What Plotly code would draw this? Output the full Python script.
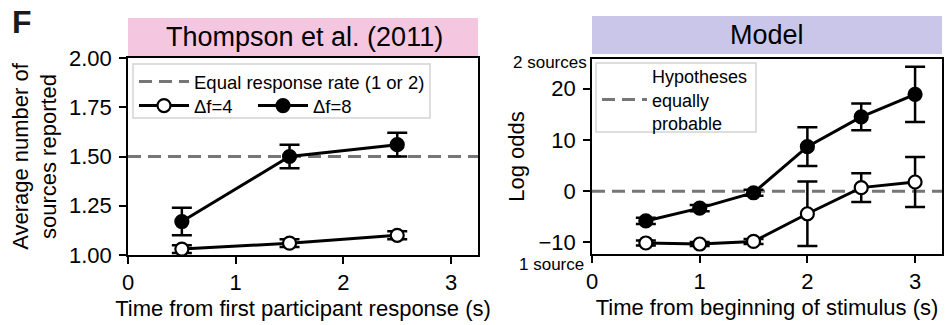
import plotly.graph_objects as go

# ---- data -------------------------------------------------------------
# Behavioural data (Thompson et al., 2011)
t_exp = [0.5, 1.5, 2.5]
exp_df4 = [1.03, 1.06, 1.10]
exp_df4_err = [0.02, 0.02, 0.02]
exp_df8 = [1.17, 1.50, 1.56]
exp_df8_err = [0.07, 0.06, 0.06]
exp_equal_rate = 1.5

# Model log odds (2 sources vs 1 source)
t_model = [0.5, 1.0, 1.5, 2.0, 2.5, 3.0]
model_df4 = [-10.1, -10.3, -9.8, -4.4, 0.7, 1.8]
model_df4_err = [0.5, 0.4, 0.5, 6.3, 2.8, 4.9]
model_df8 = [-5.8, -3.3, -0.3, 8.7, 14.5, 18.9]
model_df8_err = [0.6, 0.6, 0.6, 3.8, 2.6, 5.4]
model_equal_odds = 0.0

x_ticks = [0, 1, 2, 3]
exp_y_ticks = [1.00, 1.25, 1.50, 1.75, 2.00]
model_y_ticks = [-10, 0, 10, 20]

# ---- style ------------------------------------------------------------
W, H = 951, 325
FONT = "Liberation Sans, Arial, Helvetica, sans-serif"
X_RANGE = [0, 3.25]
DASH_GRAY = "#767676"
PINK = "#f4c6e0"
PURPLE = "#c9c6ea"


def px_x(p):
    return p / W


def px_y(p):
    return 1 - p / H


def series(x, y, err, filled, name, xa, ya, legend, show):
    return go.Scatter(
        x=x, y=y, name=name, mode="lines+markers",
        xaxis=xa, yaxis=ya, legend=legend, showlegend=show,
        line=dict(color="black", width=3),
        marker=dict(size=13, symbol="circle",
                    color="black" if filled else "white",
                    line=dict(color="black", width=2.2)),
        error_y=dict(type="data", array=err, color="black",
                     thickness=2.5, width=10),
        cliponaxis=False,
    )


fig = go.Figure()

# dashed reference lines
fig.add_trace(go.Scatter(
    x=X_RANGE, y=[exp_equal_rate] * 2, mode="lines",
    name="Equal response rate (1 or 2)", xaxis="x", yaxis="y",
    legend="legend", showlegend=True,
    line=dict(color=DASH_GRAY, width=3, dash="13px,7px")))
fig.add_trace(go.Scatter(
    x=X_RANGE, y=[model_equal_odds] * 2, mode="lines",
    name="Hypotheses<br>equally<br>probable", xaxis="x2", yaxis="y2",
    legend="legend3", showlegend=True,
    line=dict(color=DASH_GRAY, width=3, dash="13px,7px")))

# behavioural panel
fig.add_trace(series(t_exp, exp_df4, exp_df4_err, False, "Δf=4", "x", "y", "legend2", True))
fig.add_trace(series(t_exp, exp_df8, exp_df8_err, True, "Δf=8", "x", "y", "legend2", True))

# model panel
fig.add_trace(series(t_model, model_df4, model_df4_err, False, "Δf=4", "x2", "y2", "legend2", False))
fig.add_trace(series(t_model, model_df8, model_df8_err, True, "Δf=8", "x2", "y2", "legend2", False))

axis_common = dict(
    showline=True, mirror=True, linecolor="black", linewidth=1.6,
    ticks="outside", ticklen=7, tickwidth=1.6, tickcolor="black",
    showgrid=False, zeroline=False, automargin=False,
    tickfont=dict(family=FONT, size=22, color="black"),
)

fig.update_layout(
    width=W, height=H,
    margin=dict(l=0, r=0, t=0, b=0),
    paper_bgcolor="white", plot_bgcolor="white",
    showlegend=True,
    font=dict(family=FONT, color="black"),
    xaxis=dict(domain=[px_x(128), px_x(478)], range=X_RANGE, tickvals=x_ticks,
               anchor="y",
               title=dict(text="Time from first participant response (s)",
                          font=dict(size=22), standoff=6),
               **axis_common),
    yaxis=dict(domain=[px_y(255), px_y(58)], range=[1.0, 2.0],
               tickvals=exp_y_ticks, tickformat=".2f", anchor="x",
               ticklabelstandoff=3,
               title=dict(text="Average number of<br>sources reported",
                          font=dict(size=22), standoff=6),
               **axis_common),
    xaxis2=dict(domain=[px_x(592), px_x(942)], range=X_RANGE, tickvals=x_ticks,
                anchor="y2",
                title=dict(text="Time from beginning of stimulus (s)",
                           font=dict(size=22), standoff=6),
                **axis_common),
    yaxis2=dict(domain=[px_y(254), px_y(59)], range=[-12.25, 25.8],
                tickvals=model_y_ticks, anchor="x2",
                ticklabelstandoff=3,
                title=dict(text="Log odds", font=dict(size=22), standoff=8),
                **axis_common),
    legend=dict(x=px_x(134), y=px_y(63), xanchor="left", yanchor="top",
                bgcolor="rgba(0,0,0,0)", borderwidth=0, itemwidth=50,
                font=dict(family=FONT, size=18.5), tracegroupgap=0),
    legend2=dict(x=px_x(134), y=px_y(87), xanchor="left", yanchor="top",
                 orientation="h", bgcolor="rgba(0,0,0,0)", borderwidth=0,
                 itemwidth=50, entrywidth=54,
                 font=dict(family=FONT, size=18.5)),
    legend3=dict(x=px_x(597), y=px_y(58), xanchor="left", yanchor="top",
                 bgcolor="rgba(0,0,0,0)", borderwidth=0, itemwidth=45,
                 font=dict(family=FONT, size=18)),
    shapes=[
        # panel header bars
        dict(type="rect", xref="paper", yref="paper", layer="above",
             x0=px_x(128), x1=px_x(478), y0=px_y(56), y1=px_y(18),
             fillcolor=PINK, line=dict(width=0)),
        dict(type="rect", xref="paper", yref="paper", layer="above",
             x0=px_x(592), x1=px_x(942), y0=px_y(54), y1=px_y(16),
             fillcolor=PURPLE, line=dict(width=0)),
        # legend frames
        dict(type="rect", xref="paper", yref="paper", layer="above",
             x0=px_x(133), x1=px_x(430), y0=px_y(118), y1=px_y(64),
             fillcolor="rgba(255,255,255,0.85)",
             line=dict(color="#d4d4d4", width=1.5)),
        dict(type="rect", xref="paper", yref="paper", layer="above",
             x0=px_x(596), x1=px_x(756), y0=px_y(132), y1=px_y(63),
             fillcolor="rgba(255,255,255,0.85)",
             line=dict(color="#d4d4d4", width=1.5)),
    ],
    annotations=[
        dict(text="<b>F</b>", xref="paper", yref="paper", x=px_x(10), y=px_y(2),
             xanchor="left", yanchor="top", showarrow=False,
             font=dict(family=FONT, size=32, color="#1a1a1a")),
        dict(text="Thompson et al. (2011)", xref="paper", yref="paper",
             x=px_x(304), y=px_y(37), xanchor="center", yanchor="middle",
             showarrow=False, font=dict(family=FONT, size=27)),
        dict(text="Model", xref="paper", yref="paper",
             x=px_x(767), y=px_y(35), xanchor="center", yanchor="middle",
             showarrow=False, font=dict(family=FONT, size=27)),
        dict(text="2 sources", xref="paper", yref="paper",
             x=px_x(589), y=px_y(63), xanchor="right", yanchor="middle",
             showarrow=False, font=dict(family=FONT, size=17)),
        dict(text="1 source", xref="paper", yref="paper",
             x=px_x(586), y=px_y(264), xanchor="right", yanchor="middle",
             showarrow=False, font=dict(family=FONT, size=17)),
    ],
)

fig.write_html("out.html")
